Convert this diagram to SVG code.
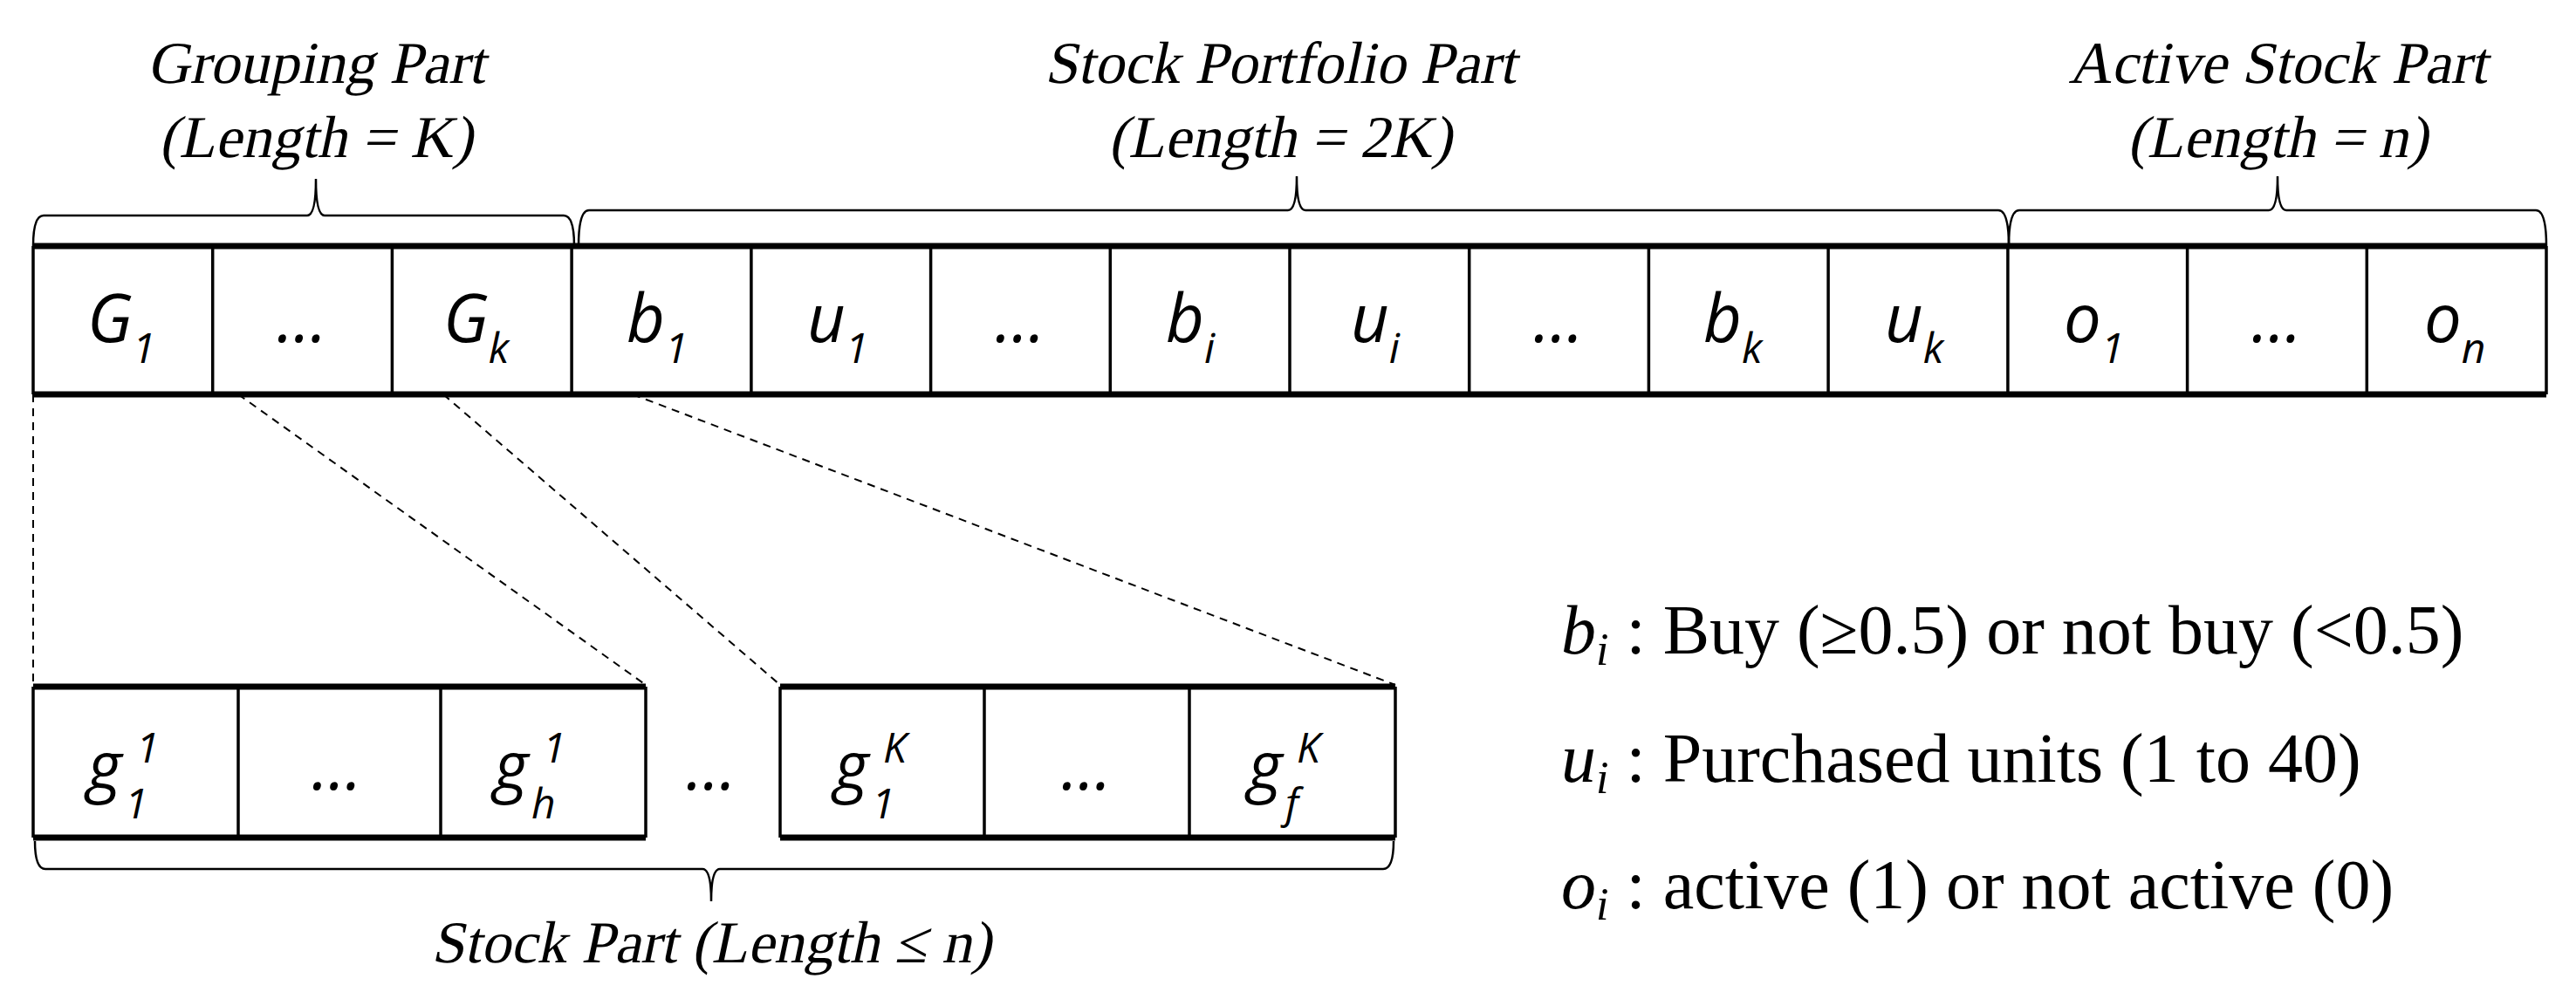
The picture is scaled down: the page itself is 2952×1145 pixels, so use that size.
<svg xmlns="http://www.w3.org/2000/svg" width="2952" height="1145" viewBox="0 0 2952 1145">
<style>
.lbl{font-family:"Liberation Serif","Times New Roman",serif;font-style:normal;font-size:68px;text-anchor:middle;fill:#000}
.cell{font-family:"Open Sans","Liberation Sans",sans-serif;font-style:italic;font-size:76px;fill:#000}
.sub{font-size:48px}
.leg{font-family:"Liberation Serif",serif;font-size:80px;fill:#000}
.hl{stroke:#000;stroke-width:7}
.vl{stroke:#000;stroke-width:3.5}
.br{fill:none;stroke:#000;stroke-width:2.5}
.dash{stroke:#000;stroke-width:2;stroke-dasharray:9,7;fill:none}
</style>
<g id="labels">
<text class="lbl" transform="translate(362,95) skewX(-12)">Grouping Part</text>
<text class="lbl" transform="translate(362,180) skewX(-12)">(Length = K)</text>
<text class="lbl" transform="translate(1467,95) skewX(-12)">Stock Portfolio Part</text>
<text class="lbl" transform="translate(1467,180) skewX(-12)">(Length = 2K)</text>
<text class="lbl" transform="translate(2610,95) skewX(-12)">Active Stock Part</text>
<text class="lbl" transform="translate(2610,180) skewX(-12)">(Length = n)</text>
<text class="lbl" transform="translate(815,1103) skewX(-12)">Stock Part (Length ≤ n)</text>
</g>
<g id="braces">
<path class="br" d="M38 282 Q38 247 50 247 L352 247 Q362 247 362 205 Q362 247 372 247 L646 247 Q658 247 658 282"/>
<path class="br" d="M663 282 Q663 241 675 241 L1476 241 Q1486 241 1486 202 Q1486 241 1496 241 L2290 241 Q2302 241 2302 282"/>
<path class="br" d="M2302 282 Q2302 241 2314 241 L2600 241 Q2610 241 2610 202 Q2610 241 2620 241 L2906 241 Q2918 241 2918 282"/>
<path class="br" d="M40 964 Q40 996 52 996 L805 996 Q815 996 815 1033 Q815 996 825 996 L1585 996 Q1597 996 1597 964"/>
</g>
<g id="connectors">
<line class="dash" x1="38" y1="452" x2="38" y2="785"/>
<line class="dash" x1="273" y1="452" x2="740" y2="785"/>
<line class="dash" x1="508" y1="452" x2="894" y2="785"/>
<line class="dash" x1="725" y1="452" x2="1599" y2="785"/>
</g>
<g id="top-row">
<line class="hl" x1="38" y1="282" x2="2918" y2="282"/>
<line class="hl" x1="38" y1="452" x2="2918" y2="452"/>
<g class="vl">
<line x1="38" y1="282" x2="38" y2="452"/><line x1="243.7" y1="282" x2="243.7" y2="452"/><line x1="449.4" y1="282" x2="449.4" y2="452"/><line x1="655.1" y1="282" x2="655.1" y2="452"/><line x1="860.9" y1="282" x2="860.9" y2="452"/><line x1="1066.6" y1="282" x2="1066.6" y2="452"/><line x1="1272.3" y1="282" x2="1272.3" y2="452"/><line x1="1478" y1="282" x2="1478" y2="452"/><line x1="1683.7" y1="282" x2="1683.7" y2="452"/><line x1="1889.4" y1="282" x2="1889.4" y2="452"/><line x1="2095.1" y1="282" x2="2095.1" y2="452"/><line x1="2300.9" y1="282" x2="2300.9" y2="452"/><line x1="2506.6" y1="282" x2="2506.6" y2="452"/><line x1="2712.3" y1="282" x2="2712.3" y2="452"/><line x1="2918" y1="282" x2="2918" y2="452"/>
</g>
<g class="cell">
<text x="100" y="392">G<tspan class="sub" dy="24">1</tspan></text>
<text x="346" y="392" text-anchor="middle">…</text>
<text x="508" y="392">G<tspan class="sub" dy="24">k</tspan></text>
<text x="718" y="392">b<tspan class="sub" dy="24">1</tspan></text>
<text x="925" y="392">u<tspan class="sub" dy="24">1</tspan></text>
<text x="1169" y="392" text-anchor="middle">…</text>
<text x="1336" y="392">b<tspan class="sub" dy="24">i</tspan></text>
<text x="1548" y="392">u<tspan class="sub" dy="24">i</tspan></text>
<text x="1786" y="392" text-anchor="middle">…</text>
<text x="1952" y="392">b<tspan class="sub" dy="24">k</tspan></text>
<text x="2160" y="392">u<tspan class="sub" dy="24">k</tspan></text>
<text x="2365" y="392">o<tspan class="sub" dy="24">1</tspan></text>
<text x="2609" y="392" text-anchor="middle">…</text>
<text x="2778" y="392">o<tspan class="sub" dy="24">n</tspan></text>
</g>
</g>
<g id="bottom-row">
<line class="hl" x1="38" y1="787" x2="740" y2="787"/>
<line class="hl" x1="38" y1="960" x2="740" y2="960"/>
<line class="hl" x1="894" y1="787" x2="1599" y2="787"/>
<line class="hl" x1="894" y1="960" x2="1599" y2="960"/>
<g class="vl">
<line x1="38" y1="787" x2="38" y2="960"/><line x1="273" y1="787" x2="273" y2="960"/><line x1="505" y1="787" x2="505" y2="960"/><line x1="740" y1="787" x2="740" y2="960"/>
<line x1="894" y1="787" x2="894" y2="960"/><line x1="1128" y1="787" x2="1128" y2="960"/><line x1="1363" y1="787" x2="1363" y2="960"/><line x1="1599" y1="787" x2="1599" y2="960"/>
</g>
<g class="cell">
<text x="100" y="905">g</text><text class="sub" x="143" y="938">1</text><text class="sub" x="156" y="874">1</text>
<text x="386" y="905" text-anchor="middle">…</text>
<text x="566" y="905">g</text><text class="sub" x="609" y="938">h</text><text class="sub" x="622" y="874">1</text>
<text x="815" y="905" text-anchor="middle">…</text>
<text x="956" y="905">g</text><text class="sub" x="999" y="938">1</text><text class="sub" x="1012" y="874">K</text>
<text x="1430" y="905">g</text><text class="sub" x="1473" y="938">f</text><text class="sub" x="1486" y="874">K</text>
<text x="1245" y="905" text-anchor="middle">…</text>
</g>
</g>
<g id="legend" class="leg">
<text x="1789" y="749"><tspan font-style="italic">b</tspan><tspan font-style="italic" font-size="52" dy="13">i</tspan><tspan dy="-13"> : Buy (≥0.5) or not buy (&lt;0.5)</tspan></text>
<text x="1789" y="896"><tspan font-style="italic">u</tspan><tspan font-style="italic" font-size="52" dy="13">i</tspan><tspan dy="-13"> : Purchased units (1 to 40)</tspan></text>
<text x="1789" y="1041"><tspan font-style="italic">o</tspan><tspan font-style="italic" font-size="52" dy="13">i</tspan><tspan dy="-13"> : active (1) or not active (0)</tspan></text>
</g>
</svg>
